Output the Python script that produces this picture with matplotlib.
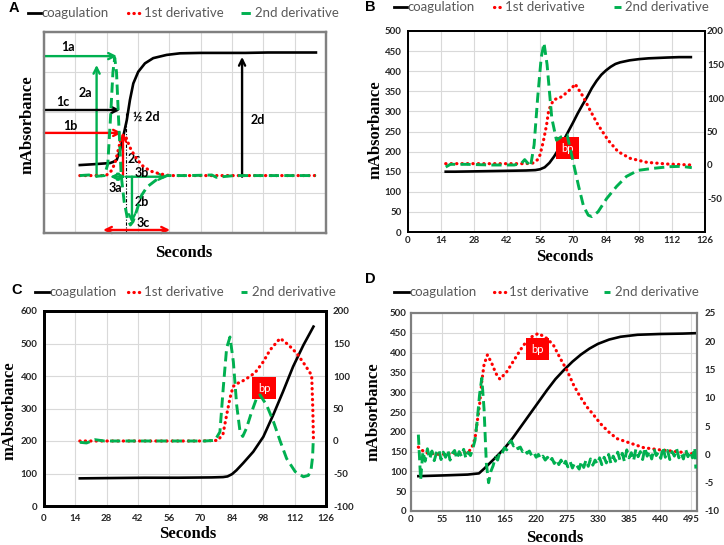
import matplotlib
matplotlib.use('Agg')
import matplotlib.pyplot as plt
from matplotlib.lines import Line2D

# ---------------- data ----------------
# panel A (schematic)
A_x_coag = [16, 22, 29.5, 31, 32.5, 34, 35.4, 37, 38.4, 39.9, 42.1, 45.1, 48.8, 54.8, 60.8, 70, 80, 90, 100, 110, 121.5]
A_coag = [169, 171, 174, 177, 182, 206, 240, 281, 331, 372, 401, 422, 435, 443, 447, 448, 448, 448, 449, 449, 449]
A_x_d1 = [16, 22, 26, 28, 30, 31.7, 33.2, 34.5, 35.5, 36.5, 38.4, 40.7, 43.7, 47.4, 51.8, 56.3, 65, 75, 85, 95, 105, 115, 121.5]
A_d1 = [0, 0, 0, 1, 8, 21, 45, 66, 71, 68, 49, 33, 18, 8, 3, 0, 0, 0, 0, 0, 0, 0, 0]
A_x_d2 = [16, 20, 24, 27, 28.5, 29.7, 30.8, 31.6, 32.4, 33.3, 34.5, 35.8, 37.3, 38.6, 39.8, 41.5, 43.5, 46, 50, 55, 65, 75, 77, 85, 95, 105, 115, 121.5]
A_d2 = [0, 1, -1, 0, 20, 100, 180, 205, 180, 100, 0, -45, -75, -86, -80, -60, -35, -20, -8, 0, 0, 1, -3, 0, 0, 0, 0, 0]

# panel B
B_x_coag = [16, 20, 30, 40, 50, 54, 56, 58, 60, 62, 64, 66, 68, 70, 72, 74, 76, 78, 80, 82, 84, 86, 88, 90, 94, 98, 102, 106, 110, 115, 120]
B_coag = [150, 150, 151, 152, 153, 154, 156, 161, 172, 188, 207, 228, 250, 272, 295, 316, 336, 358, 376, 391, 402, 411, 418, 422, 427, 430, 432, 433, 434, 435, 435]
B_x_d1 = [16, 20, 30, 40, 50, 53, 55, 56, 57.4, 58.8, 59.7, 61.7, 65.3, 69.6, 70.9, 74.3, 77.2, 80.6, 84.9, 89.1, 94.2, 101.3, 109.8, 120.4]
B_d1 = [2, 2, 2, 2, 2, 3, 8, 15, 35, 60, 82, 97, 102, 115, 121, 102, 82, 60, 37, 20, 10, 4, 1.5, 0]
B_x_d2 = [16, 18, 25, 35, 45, 48, 49.5, 51, 52, 53.5, 55, 56.5, 57.7, 59, 61, 63, 65, 67.5, 69.6, 72.4, 74.5, 76.5, 78, 80.6, 84.3, 88.5, 92.7, 97.6, 104, 111, 116, 120.4]
B_d2 = [-3, 1, 1, 0, 0, 2, 8, 2, -2, 30, 100, 160, 182, 150, 70, 37, 42, 45, 12, -32, -62, -75, -77, -70, -50, -32, -17, -8, -5, -2.5, -2, -4]

# panel C
C_x_coag = [16, 30, 45, 60, 75, 80, 82, 84, 86, 89, 93.5, 98, 102.4, 106.8, 111.3, 115.9, 120.4]
C_coag = [85, 86, 87, 87, 88, 89, 91, 98, 110, 132, 167, 213, 280, 352, 429, 495, 552]
C_x_d1 = [16, 30, 50, 70, 77.7, 80, 81.6, 83.1, 84.5, 86.7, 89.7, 94.3, 98, 101, 105.5, 109.2, 112.9, 116.6, 119.6, 120.1, 120.4]
C_d1 = [0, 0, 0, 0, 1, 11, 40, 66, 84, 89, 94, 105, 122, 140, 158, 148, 135, 117, 101, 50, 0]
C_x_d2 = [16, 19, 22.8, 27, 35, 45, 55, 65, 72, 76.4, 78.6, 80.1, 81.6, 83.1, 84.6, 86.1, 87.6, 88.8, 90.5, 92.8, 95, 96.5, 99.5, 102.5, 105.5, 108.4, 112.2, 115.9, 118.1, 119.3, 120, 120.3]
C_d2 = [-2, -3, 2, 0, 0, 0, 0, 0, 0, 1, 14, 82, 143, 160, 122, 55, 14, 7, 20, 45, 66, 71, 55, 30, 0, -27, -47, -55, -53, -45, -25, 0]

# panel D
D_x_coag = [13, 60, 100, 120, 130, 140, 150, 165, 180, 195, 210, 225, 240, 255, 270, 285, 300, 315, 330, 350, 370, 400, 440, 480, 502]
D_coag = [88, 90, 92, 95, 108, 122, 136, 158, 185, 215, 245, 275, 305, 333, 356, 377, 395, 410, 422, 433, 440, 445, 447, 448, 449]
D_x_d1 = [13, 25, 50, 75, 100, 107, 113, 117, 121, 125, 129, 135, 142.6, 150, 157, 169, 184, 198.5, 213.3, 225, 240, 251.6, 263.4, 275.2, 287, 298.7, 310.6, 322.3, 334, 348.8, 363.6, 387.1, 410.7, 440, 469.7, 499]
D_d1 = [1.3, 0.3, 0, 0.2, 0.3, 1.1, 2.8, 5.8, 8.7, 12.9, 15.9, 17.6, 16.1, 14.3, 13.3, 14.6, 17, 19.3, 20.8, 21.4, 20.5, 19.3, 17, 14.9, 12.3, 10.2, 8.4, 7, 5.5, 4, 2.8, 2, 1.2, 0.8, 0.5, 0.1]
D_x_d2 = [13, 17, 21, 25, 29, 33, 37, 41, 45, 49, 53, 57, 61, 65, 69, 73, 77, 81, 85, 89, 93, 97, 101, 105, 109,
          113, 117, 121, 125, 129, 133, 137, 141, 145, 149, 153, 157, 161, 165, 169, 173, 177, 181, 185, 189, 193,
          197, 201, 205, 209, 213, 217, 221, 225, 229, 233, 237, 241, 245, 249, 253, 257, 261, 265, 269, 273, 277,
          281, 285, 289, 293, 297, 301, 305, 309, 313, 317, 321, 325, 329, 333, 337, 341, 345, 349, 353, 357, 361,
          365, 369, 373, 377, 381, 385, 389, 393, 397, 401, 405, 409, 413, 417, 421, 425, 429, 433, 437, 441, 445,
          449, 453, 457, 461, 465, 469, 473, 477, 481, 485, 489, 493, 497, 501, 503]
D_d2 = [3.5, -4.5, 0.5, -1.2, 1.0, -0.8, 0.6, -1.1, 0.3, 0.9, -0.9, 0.4, -0.5, 0.8, -1.0, 0.2, 0.7, -0.8, 0.5, -0.3, 0.9, -0.7, 0.4, -0.2, 1.0,
        2.5, 6.0, 10.5, 13.5, 8.0, -1.5, -5.0, -3.0, -2.0, -0.5, -1.0, 0.5, 0.2, 1.2, 0.8, 2.0, 2.4, 1.5, 1.8, 1.0, 1.3,
        0.5, 0.9, 0.2, 0.6, -0.2, 0.3, -0.5, 0.0, -0.8, -0.3, -1.0, -0.5, -1.3, -0.7, -1.6, -0.9, -1.8, -1.0, -2.0, -1.2, -2.2,
        -1.3, -2.4, -1.5, -2.0, -2.6, -1.2, -2.3, -1.0, -2.1, -0.8, -1.9, -1.0, -1.7, -0.6, -1.8, -0.5, -1.5, 0.0, -1.6, -0.3, -1.2,
        0.4, -1.0, 0.2, -1.3, 0.8, -0.6, 0.3, -1.1, 0.9, -0.4, 0.5, -0.9, 1.2, -0.3, 0.6, -0.8, 1.0, -0.2, 0.4, -0.7, 1.3,
        -0.5, 0.7, -0.9, 0.5, -0.3, 1.0, -0.6, 0.2, -0.8, 0.9, -0.4, 0.5, -0.6, 1.2, -2.5]

legend_labels = ['coagulation', '1st derivative', '2nd derivative']

# ---------------- styling ----------------
W, H = 724, 545
fig = plt.figure(figsize=(W / 100, H / 100), dpi=100)

GREEN = '#00B050'
RED = '#FF0000'
GRID = '#d9d9d9'
TXT = '#262626'
TICKFONT = dict(family='Lato', weight='bold', size=7)
DASH = (0, (3.5, 1.8))
DOT = (0, (0.1, 1.6))


def px_axes(x0, y0, x1, y1):
    return fig.add_axes([x0 / W, 1 - y1 / H, (x1 - x0) / W, (y1 - y0) / H])


def fx(x):
    return x / W


def fy(y):
    return 1 - y / H


def panel(box, xc, yc, x1, y1, x2, y2, xlim, ylim, y2lim, xt, yt, y2t,
          fcol, flw, show=True, pads=(3, 4, 2), y2hide=None):
    ax = px_axes(*box)
    ax2 = ax.twinx()
    ax.plot(xc, yc, color='k', lw=1.9, zorder=3)
    ax2.plot(x1, y1, color=RED, lw=2.3, linestyle=DOT, dash_capstyle='round', zorder=3)
    ax2.plot(x2, y2, color=GREEN, lw=2.1, linestyle=DASH, zorder=4)
    ax.set_xlim(*xlim)
    ax.set_ylim(*ylim)
    ax2.set_ylim(*y2lim)
    ax.set_xticks(xt)
    ax.set_yticks(yt)
    ax2.set_yticks(y2t)
    ax.grid(True, color=GRID, lw=0.8)
    ax.set_axisbelow(True)
    for a in (ax, ax2):
        for s in a.spines.values():
            s.set_color(fcol)
            s.set_linewidth(flw)
    ax.tick_params(axis='x', length=0, pad=pads[0], colors=TXT)
    ax.tick_params(axis='y', length=0, pad=pads[1], colors=TXT)
    ax2.tick_params(axis='y', length=0, pad=pads[2], colors=TXT)
    if show:
        ax.set_xticklabels([str(v) for v in xt], fontdict=TICKFONT)
        ax.set_yticklabels([str(v) for v in yt], fontdict=TICKFONT)
        labs = [str(v) for v in y2t]
        if y2hide is not None:
            labs[y2t.index(y2hide)] = ''
        ax2.set_yticklabels(labs, fontdict=TICKFONT)
    else:
        ax.set_xticklabels([])
        ax.set_yticklabels([])
        ax2.set_yticklabels([])
    return ax, ax2


def legend_row(y, pos):
    # pos: (x0,x1,tx) for each of the three entries, in pixels
    styles = [dict(color='k', lw=2.0),
              dict(color=RED, lw=2.3, linestyle=DOT, dash_capstyle='round'),
              dict(color=GREEN, lw=2.1, linestyle=(0, (3.2, 1.6)))]
    for (x0, x1, tx), lab, st in zip(pos, legend_labels, styles):
        fig.add_artist(Line2D([fx(x0), fx(x1)], [fy(y), fy(y)], transform=fig.transFigure, **st))
        fig.text(fx(tx), fy(y), lab, ha='left', va='center', family='Lato', size=9.5, color='#595959')


def axis_titles(letter_xy, ylab_xy, xlab_xy):
    fig.text(fx(letter_xy[0]), fy(letter_xy[1]), letter_xy[2], ha='center', va='center',
             family='Liberation Sans', weight='bold', size=10.5)
    fig.text(fx(ylab_xy[0]), fy(ylab_xy[1]), 'mAbsorbance', rotation=90, ha='center', va='center',
             family='Liberation Serif', weight='bold', size=12)
    fig.text(fx(xlab_xy[0]), fy(xlab_xy[1]), 'Seconds', ha='center', va='center',
             family='Liberation Serif', weight='bold', size=12)


x14 = list(range(0, 127, 14))

# ---------------- panel A ----------------
axA, axA2 = panel((44, 32, 326, 233), A_x_coag, A_coag, A_x_d1, A_d1, A_x_d2, A_d2,
                  (0, 126), (0, 500), (-100, 250), x14, list(range(0, 501, 100)),
                  list(range(-100, 251, 50)), '#808080', 1.6, show=False)


def arrow(ax, x0, y0, x1, y1, col, style='->'):
    ax.annotate('', xy=(x1, y1), xytext=(x0, y0),
                arrowprops=dict(arrowstyle=style, color=col, lw=1.7, mutation_scale=11,
                                shrinkA=0, shrinkB=0), zorder=6)


def lab(ax, x, y, s):
    ax.text(x, y, s, ha='center', va='center', family='Lato', weight='bold', size=9, color='k', zorder=7)


axA.plot([36.6, 36.6], [0, 298], color='k', lw=0.8, linestyle=(0, (3, 1.5, 1, 1.5)), zorder=5)
arrow(axA, 0, 440, 32.6, 440, GREEN)
arrow(axA, 23.5, 140, 23.5, 418, GREEN)
arrow(axA, 0, 306, 34, 306, 'k')
arrow(axA, 0, 249, 34.8, 249, RED)
arrow(axA, 35.3, 140, 35.3, 249, RED)
arrow(axA, 29.5, 140, 36.6, 140, GREEN, '<->')
arrow(axA, 36.6, 140, 55, 140, GREEN)
arrow(axA, 39.3, 140, 39.3, 25, GREEN)
arrow(axA, 26.4, 7.5, 56.3, 7.5, RED, '<->')
arrow(axA, 88.5, 140, 88.5, 438, 'k')
lab(axA, 10.7, 463, '1a')
lab(axA, 18.3, 348, '2a')
lab(axA, 8.5, 326, '1c')
lab(axA, 45.5, 289, '½ 2d')
lab(axA, 11.6, 266, '1b')
lab(axA, 40.3, 184, '2c')
lab(axA, 43.5, 149, '3b')
lab(axA, 31.7, 111, '3a')
lab(axA, 43.5, 78, '2b')
lab(axA, 44.2, 26, '3c')
lab(axA, 95.5, 281, '2d')

legend_row(13, [(28, 42, 42), (128, 143, 144), (241, 254, 255)])
axis_titles((14, 8, 'A'), (28, 125), (184, 253))

# ---------------- panel B ----------------
axB, axB2 = panel((408, 31, 705, 232), B_x_coag, B_coag, B_x_d1, B_d1, B_x_d2, B_d2,
                  (0, 126), (0, 500), (-100, 200), x14, list(range(0, 501, 50)),
                  list(range(-100, 201, 50)), 'k', 1.3, pads=(3, 4.5, 1.5), y2hide=-100)
axB.text(67.7, 208, 'bp', ha='center', va='center', family='Lato', size=8, color='white', zorder=8,
         bbox=dict(boxstyle='square,pad=0.5', fc=RED, ec='none'))
legend_row(7, [(394, 407, 408), (494, 504, 505), (614, 621, 625)])
axis_titles((370, 7, 'B'), (376, 130), (565, 257))

# ---------------- panel C ----------------
axC, axC2 = panel((44, 311, 326, 506), C_x_coag, C_coag, C_x_d1, C_d1, C_x_d2, C_d2,
                  (0, 126), (0, 600), (-100, 200), x14, list(range(0, 601, 100)),
                  list(range(-100, 201, 50)), 'k', 2.0, pads=(6, 4.5, 5))
axC.text(98.3, 363, 'bp', ha='center', va='center', family='Lato', size=8, color='white', zorder=8,
         bbox=dict(boxstyle='square,pad=0.5', fc=RED, ec='none'))
legend_row(292, [(35, 50, 50), (128, 143, 144), (241, 247, 252)])
axis_titles((17, 290, 'C'), (10, 411), (188, 534))

# ---------------- panel D ----------------
axD, axD2 = panel((411, 313, 697, 511), D_x_coag, D_coag, D_x_d1, D_d1, D_x_d2, D_d2,
                  (0, 505), (0, 500), (-10, 25), list(range(0, 496, 55)), list(range(0, 501, 50)),
                  list(range(-10, 26, 5)), '#7f7f7f', 1.5, pads=(3, 3, 5.5))
axD.text(223.6, 409, 'bp', ha='center', va='center', family='Lato', size=8, color='white', zorder=8,
         bbox=dict(boxstyle='square,pad=0.5', fc=RED, ec='none'))
legend_row(292, [(394, 409, 409), (494, 509, 509), (604, 610, 615)])
axis_titles((370, 279, 'D'), (373, 412), (555, 538))

fig.savefig('out.png', dpi=100)
